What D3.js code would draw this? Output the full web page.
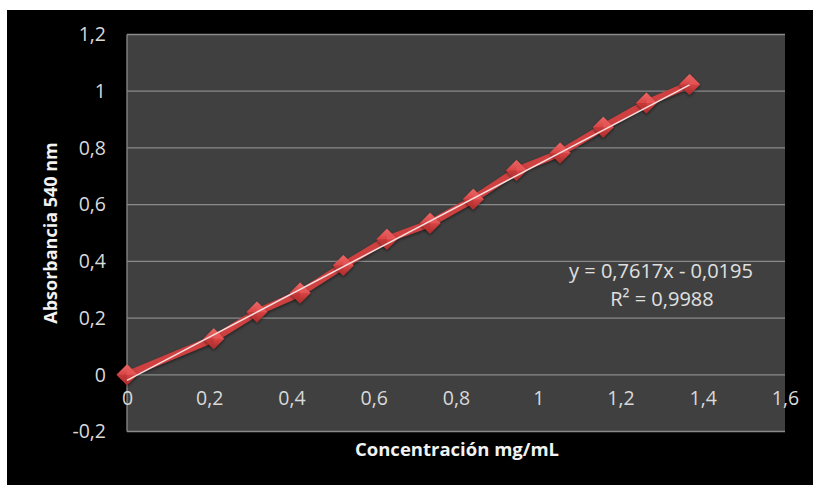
<!DOCTYPE html>
<html><head><meta charset="utf-8">
<script src="https://cdn.jsdelivr.net/npm/d3@7/dist/d3.min.js"></script>
<style>html,body{margin:0;padding:0;background:#fff;}svg{display:block;}</style>
</head><body>
<svg id="c" width="813" height="485"></svg>
<script>
const concentrations = [0, 0.211, 0.316, 0.421, 0.526, 0.632, 0.737, 0.842, 0.947, 1.053, 1.158, 1.263, 1.368];
const absorbances   = [0, 0.127, 0.221, 0.288, 0.385, 0.478, 0.534, 0.619, 0.720, 0.782, 0.873, 0.958, 1.024];
const xTicks = [0, 0.2, 0.4, 0.6, 0.8, 1, 1.2, 1.4, 1.6];
const yTicks = [-0.2, 0, 0.2, 0.4, 0.6, 0.8, 1, 1.2];
const slope = 0.7617, intercept = -0.0195;
const eqLabel = "y = 0,7617x - 0,0195";
const r2Label = "R² = 0,9988";
const xTitle = "Concentración mg/mL";
const yTitle = "Absorbancia 540 nm";

const svg = d3.select("#c");
const W = 813, H = 485;
const L = 127, R = 785, T = 34.5, B = 431.5;
const font = "'Open Sans', sans-serif";

svg.append("rect").attr("x", 7).attr("y", 10).attr("width", W - 7).attr("height", H - 10).attr("fill", "#000");
svg.append("rect").attr("x", L).attr("y", T).attr("width", R - L).attr("height", B - T).attr("fill", "#404040");

const x = d3.scaleLinear().domain([0, 1.6]).range([L, R]);
const y = d3.scaleLinear().domain([-0.2, 1.2]).range([B, T]);
const fmt = v => String(+v.toFixed(1)).replace(".", ",");

svg.append("g").selectAll("line").data(yTicks).join("line")
  .attr("x1", L).attr("x2", R).attr("y1", d => y(d)).attr("y2", d => y(d))
  .attr("stroke", "#8a8a8a").attr("stroke-width", 1.3);
svg.append("line").attr("x1", L).attr("x2", L).attr("y1", T).attr("y2", B)
  .attr("stroke", "#8a8a8a").attr("stroke-width", 1.3);

const yAxis = d3.axisLeft(y).tickValues(yTicks).tickFormat(fmt).tickSize(0).tickPadding(21);
const gy = svg.append("g").attr("transform", `translate(${L},0)`).call(yAxis);
gy.select(".domain").remove();
gy.selectAll("text").attr("fill", "#d9d9d9").style("font-family", font).style("font-size", "19.5px");

const xAxis = d3.axisBottom(x).tickValues(xTicks).tickFormat(fmt).tickSize(0).tickPadding(16);
const gx = svg.append("g").attr("transform", `translate(0,${y(0)})`).call(xAxis);
gx.select(".domain").remove();
gx.selectAll("text").attr("fill", "#d9d9d9").style("font-family", font).style("font-size", "19.5px");

svg.append("text").attr("x", 457).attr("y", 456).attr("text-anchor", "middle")
  .attr("fill", "#f2f2f2").style("font-family", font).style("font-weight", "bold").style("font-size", "18.5px").text(xTitle);
svg.append("text").attr("transform", "translate(57,233) rotate(-90)").attr("text-anchor", "middle")
  .attr("fill", "#f2f2f2").style("font-family", font).style("font-weight", "bold").style("font-size", "18px").text(yTitle);

const defs = svg.append("defs");
const lg = defs.append("linearGradient").attr("id", "mk").attr("x1", "0").attr("y1", "0").attr("x2", "0").attr("y2", "1");
lg.append("stop").attr("offset", "0").attr("stop-color", "#ec6a6a");
lg.append("stop").attr("offset", "0.5").attr("stop-color", "#d84444");
lg.append("stop").attr("offset", "1").attr("stop-color", "#a82a2a");
const sh = defs.append("filter").attr("id", "sh").attr("x", "-50%").attr("y", "-50%").attr("width", "200%").attr("height", "200%");
sh.append("feDropShadow").attr("dx", 0).attr("dy", 1.5).attr("stdDeviation", 1.5).attr("flood-color", "#000").attr("flood-opacity", 0.5);

const pts = concentrations.map((c, i) => [c, absorbances[i]]);
svg.append("path").datum(pts)
  .attr("d", d3.line().x(d => x(d[0])).y(d => y(d[1])))
  .attr("fill", "none").attr("stroke", "#cf4040").attr("stroke-width", 7).attr("stroke-linejoin", "round")
  .attr("filter", "url(#sh)");

const s = 10.5;
const mg = svg.append("g").selectAll("g").data(pts).join("g")
  .attr("transform", d => `translate(${x(d[0])},${y(d[1])})`).attr("filter", "url(#sh)");
mg.append("path").attr("d", `M0,${-s}L${s},0L0,${s}L${-s},0Z`).attr("fill", "url(#mk)");
mg.append("path").attr("d", `M0,${-s}L${s},0L0,0Z`).attr("fill", "#e85a5a").attr("opacity", 0.7);
mg.append("path").attr("d", `M0,${s}L${-s},0L0,0Z`).attr("fill", "#b83232").attr("opacity", 0.6);

const x0 = d3.min(concentrations), x1 = d3.max(concentrations);
svg.append("line").attr("x1", x(x0)).attr("y1", y(slope * x0 + intercept))
  .attr("x2", x(x1)).attr("y2", y(slope * x1 + intercept))
  .attr("stroke", "#f4dede").attr("stroke-width", 1.5);

svg.append("text").attr("x", 661).attr("y", 278).attr("text-anchor", "middle")
  .attr("fill", "#e0e0e0").style("font-family", font).style("font-size", "20px").text(eqLabel);
svg.append("text").attr("x", 662).attr("y", 306).attr("text-anchor", "middle")
  .attr("fill", "#e0e0e0").style("font-family", font).style("font-size", "20px").text(r2Label);
</script>
</body></html>
